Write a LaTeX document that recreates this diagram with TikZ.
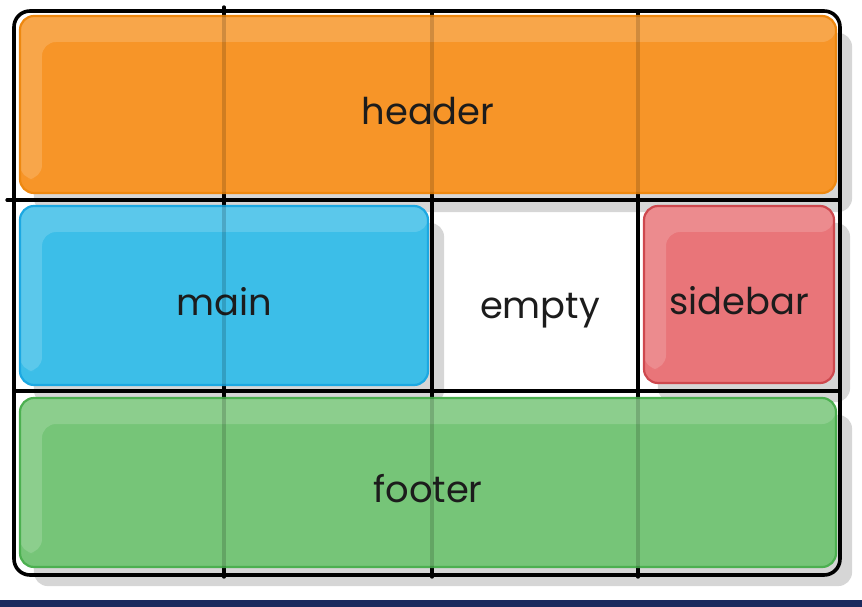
\documentclass[tikz,border=0pt]{standalone}
\usepackage{xcolor}
\usepackage{fontspec}
\setmainfont{Poppins}
\usepackage{tikz}
\usetikzlibrary{shapes.geometric}

\definecolor{headerfill}{RGB}{247,149,40}
\definecolor{headerline}{RGB}{238,136,16}
\definecolor{mainfill}{RGB}{60,190,232}
\definecolor{mainline}{RGB}{28,168,226}
\definecolor{sidefill}{RGB}{233,117,121}
\definecolor{sideline}{RGB}{206,72,78}
\definecolor{footfill}{RGB}{118,197,120}
\definecolor{footline}{RGB}{76,176,80}
\definecolor{shadowgray}{RGB}{214,214,214}
\definecolor{barblue}{RGB}{27,42,94}
\definecolor{textgray}{RGB}{28,28,28}

\pgfdeclarelayer{shade}
\pgfdeclarelayer{tracks}
\pgfsetlayers{shade,tracks,main}

\begin{document}
\begin{tikzpicture}[x=1bp, y=-1bp]
\tikzstyle{label} = [text=textgray, font=\fontsize{37}{40}\selectfont, text height=40bp, text depth=0bp]
\tikzstyle{area} = [label, rectangle, rounded corners=14bp, line width=2.2bp, text centered,
  path picture={\fill[white, opacity=0.16] (path picture bounding box.north west) -- (path picture bounding box.north east)
    -- ([yshift=-26bp]path picture bounding box.north east) -- ([xshift=22bp,yshift=-26bp]path picture bounding box.north west)
    -- ([xshift=22bp,yshift=14bp]path picture bounding box.south west) -- ([yshift=14bp]path picture bounding box.south west) -- cycle;}]
\tikzstyle{gridline} = [line width=3.2bp, line cap=round, draw=black]
\tikzstyle{frame} = [rectangle, rounded corners=16bp, line width=3.6bp, draw=black, minimum width=826bp, minimum height=564bp]

\useasboundingbox (0,0) rectangle (862,607);
\fill[barblue] (0,600) rectangle (862,607);

% layout areas
\node (header) [area, fill=headerfill, draw=headerline, minimum width=816bp, minimum height=177bp] at (428,104.5) {header};
\node (main) [area, fill=mainfill, draw=mainline, minimum width=408bp, minimum height=179bp] at (224,295.5) {main};
\node (sidebar) [area, fill=sidefill, draw=sideline, minimum width=190bp, minimum height=177bp] at (739,294.5) {sidebar};
\node (footer) [area, fill=footfill, draw=footline, minimum width=816bp, minimum height=169bp] at (428,482.5) {footer};
\node (empty) [label] at (540,298) {empty};

% shadows under the areas
\begin{pgfonlayer}{shade}
\foreach \areaname in {header,main,sidebar,footer}
  \fill [shadowgray, rounded corners=14bp] ([shift={(15,18)}]\areaname.north west) rectangle ([shift={(15,18)}]\areaname.south east);
\end{pgfonlayer}

% grid tracks, seen through the areas
\begin{pgfonlayer}{tracks}
\node (grid) [frame] at (427,293) {};
\foreach \gx/\gy in {224/7, 432/11, 638/11}
  \draw [gridline] (\gx,\gy) -- (\gx,577);
\draw [gridline] (7,200) -- (840,200);
\draw [gridline] (14,391) -- (840,391);
\end{pgfonlayer}
\foreach \gx/\gy in {224/7, 432/11, 638/11}
  \draw [gridline, draw opacity=0.16] (\gx,\gy) -- (\gx,577);
\draw [gridline, draw opacity=0.16] (7,200) -- (840,200);
\draw [gridline, draw opacity=0.16] (14,391) -- (840,391);
\end{tikzpicture}
\end{document}
